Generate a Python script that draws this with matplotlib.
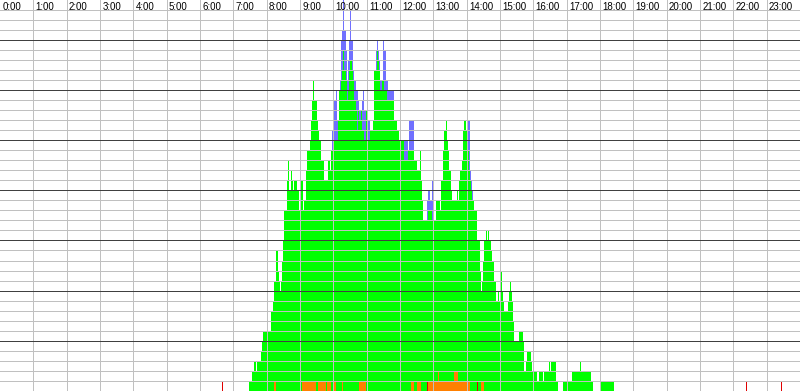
import numpy as np
import matplotlib
matplotlib.use("Agg")
import matplotlib.pyplot as plt

# ---------------- data ----------------
BIN_MIN = 2  # each bar covers 2 minutes (30 bars per hour)

hour_labels = ["0:00", "1:00", "2:00", "3:00", "4:00", "5:00", "6:00", "7:00",
               "8:00", "9:00", "10:00", "11:00", "12:00", "13:00", "14:00",
               "15:00", "16:00", "17:00", "18:00", "19:00", "20:00", "21:00",
               "22:00", "23:00"]

# top of the green stack (includes orange/red parts at the bottom), per 2-min bin
green_07 = [0, 0, 0, 0, 0, 0, 0, 0, 0, 0, 0, 0, 0, 0, 1, 1, 1, 2, 2, 3, 2, 3, 3, 3, 3, 4, 5, 6, 6, 6]
green_08 = [7, 6, 6, 6, 8, 8, 9, 11, 14, 14, 12, 11, 10, 11, 13, 15, 18, 18, 21, 23, 20, 20, 22, 21, 20, 21, 21, 20, 20, 18]
green_09 = [18, 21, 21, 18, 19, 22, 24, 24, 24, 25, 27, 29, 31, 29, 29, 27, 26, 25, 25, 23, 23, 23, 21, 21, 21, 23, 23, 22, 24, 24]
green_10 = [25, 25, 25, 25, 27, 30, 30, 31, 32, 34, 32, 31, 29, 30, 32, 33, 33, 32, 31, 29, 28, 26, 28, 27, 27, 28, 26, 26, 25, 28]
green_11 = [26, 25, 25, 26, 26, 26, 27, 32, 32, 34, 33, 32, 30, 30, 31, 31, 30, 30, 29, 29, 29, 29, 29, 29, 29, 27, 27, 26, 26, 25]
green_12 = [25, 25, 25, 25, 23, 23, 23, 24, 24, 24, 24, 24, 24, 23, 23, 22, 22, 22, 24, 21, 19, 17, 17, 17, 17, 18, 18, 18, 18, 17]
green_13 = [16, 17, 19, 19, 19, 19, 18, 21, 21, 24, 26, 27, 25, 24, 22, 22, 20, 19, 19, 19, 19, 20, 19, 21, 22, 22, 23, 26, 27, 26]
green_14 = [26, 24, 22, 21, 20, 19, 19, 18, 18, 15, 15, 15, 12, 10, 11, 13, 15, 16, 15, 16, 15, 15, 14, 13, 13, 11, 9, 9, 10, 9]
green_15 = [10, 12, 10, 9, 8, 8, 8, 9, 10, 11, 10, 9, 7, 5, 5, 5, 5, 6, 6, 6, 6, 5, 2, 3, 4, 4, 4, 4, 3, 2]
green_16 = [1, 2, 2, 1, 1, 2, 2, 2, 2, 1, 2, 2, 2, 2, 3, 2, 3, 3, 3, 3, 1, 1, 0, 0, 0, 0, 0, 1, 1, 1]
green_17 = [1, 1, 1, 1, 1, 2, 2, 2, 2, 2, 2, 2, 3, 2, 2, 2, 2, 2, 2, 2, 2, 2, 1, 1, 0, 0, 0, 0, 0, 0]
green_18 = [1, 1, 1, 1, 1, 1, 1, 1, 1, 1, 1, 1, 1, 0, 0, 0, 0, 0, 0, 0, 0, 0, 0, 0, 0, 0, 0, 0, 0, 0]

# blue segment stacked on top of green
blue_09 = [0, 0, 0, 0, 0, 0, 0, 0, 0, 0, 0, 0, 0, 0, 0, 0, 0, 0, 0, 0, 0, 0, 0, 0, 0, 0, 0, 0, 0, 2]
blue_10 = [2, 4, 5, 2, 0, 0, 1, 4, 4, 6, 4, 3, 2, 3, 3, 5, 2, 3, 1, 2, 2, 4, 1, 1, 1, 0, 3, 4, 3, 0]
blue_11 = [5, 2, 2, 0, 0, 0, 0, 0, 2, 1, 1, 1, 1, 1, 0, 4, 4, 1, 2, 1, 1, 1, 1, 1, 1, 0, 0, 0, 0, 0]
blue_12 = [0, 0, 0, 0, 2, 2, 2, 0, 3, 3, 3, 3, 3, 0, 0, 0, 0, 0, 0, 0, 0, 0, 0, 0, 2, 2, 2, 1, 1, 4]
blue_13 = [3, 0, 0, 0, 0, 0, 0, 0, 0, 0, 0, 0, 0, 0, 0, 0, 0, 0, 0, 0, 0, 0, 0, 0, 0, 0, 0, 0, 0, 0]
blue_14 = [0, 3, 5, 1, 1, 1, 0, 0, 0, 0, 0, 0, 0, 0, 0, 0, 0, 0, 0, 0, 0, 0, 0, 0, 0, 0, 0, 0, 0, 0]

# orange segment at the bottom
orange_08 = [0, 0, 0, 0, 0, 0, 0, 1, 0, 0, 0, 0, 0, 0, 0, 0, 0, 0, 0, 0, 0, 0, 0, 0, 0, 0, 0, 0, 0, 0]
orange_09 = [0, 0, 1, 1, 1, 1, 1, 1, 1, 1, 1, 1, 1, 1, 0, 0, 1, 1, 1, 1, 1, 1, 1, 0, 1, 1, 1, 1, 0, 0]
orange_10 = [2, 1, 0, 0, 0, 0, 0, 0, 1, 0, 0, 0, 0, 0, 0, 0, 0, 0, 0, 0, 0, 0, 0, 1, 1, 1, 1, 1, 1, 0]
orange_12 = [0, 0, 0, 0, 0, 0, 0, 0, 0, 0, 1, 1, 1, 0, 0, 1, 1, 1, 1, 0, 0, 0, 0, 0, 0, 1, 1, 1, 1, 1]
orange_13 = [1, 1, 1, 1, 2, 1, 1, 1, 1, 1, 1, 1, 1, 1, 1, 1, 1, 1, 1, 2, 2, 2, 1, 1, 1, 1, 1, 1, 1, 1]
orange_14 = [1, 1, 1, 0, 0, 0, 0, 0, 0, 0, 0, 0, 0, 1, 1, 1, 0, 0, 0, 0, 0, 0, 0, 0, 0, 0, 0, 0, 0, 0]

# red single events at the bottom
red_times = ["06:40", "12:48", "14:18", "22:22", "23:26"]
red_counts = [1, 1, 1, 1, 1]

# ---------------- assemble ----------------
per_hour = 60 // BIN_MIN
n_bins = 24 * per_hour
green = np.zeros(n_bins)
blue = np.zeros(n_bins)
orange = np.zeros(n_bins)
red = np.zeros(n_bins)

for h, vals in [(7, green_07), (8, green_08), (9, green_09), (10, green_10),
                (11, green_11), (12, green_12), (13, green_13), (14, green_14),
                (15, green_15), (16, green_16), (17, green_17), (18, green_18)]:
    green[h * per_hour:(h + 1) * per_hour] = vals
for h, vals in [(9, blue_09), (10, blue_10), (11, blue_11), (12, blue_12),
                (13, blue_13), (14, blue_14)]:
    blue[h * per_hour:(h + 1) * per_hour] = vals
for h, vals in [(8, orange_08), (9, orange_09), (10, orange_10), (12, orange_12),
                (13, orange_13), (14, orange_14)]:
    orange[h * per_hour:(h + 1) * per_hour] = vals
for t, c in zip(red_times, red_counts):
    hh, mm = t.split(":")
    red[(int(hh) * 60 + int(mm)) // BIN_MIN] = c

x = np.arange(n_bins) * BIN_MIN
green_seg = np.clip(green - orange - red, 0, None)

# ---------------- draw ----------------
W, H = 800, 391
fig = plt.figure(figsize=(W / 100, H / 100), dpi=100)
fig.patch.set_facecolor("white")
ax = fig.add_axes([0, 0, 1, 1])
ax.set_xlim(0, 1440)
ax.set_ylim(-0.05, 39.05)
ax.axis("off")

kw = dict(width=BIN_MIN, align="edge", linewidth=0, antialiased=False, zorder=1)
ax.bar(x, orange, bottom=0, color="#ff8000", **kw)
ax.bar(x, red, bottom=orange, color="#e00000", **kw)
ax.bar(x, green_seg, bottom=orange + red, color="#00ff00", **kw)
ax.bar(x, blue, bottom=green, color="#7070ff", **kw)

# grid
LW = 0.72  # one pixel at 100 dpi
for v in range(1, 39):
    dark = (v % 5 == 0)
    ax.axhline(v, color="#404040" if dark else "#c0c0c0", lw=LW, zorder=3 if dark else 2,
               antialiased=False, snap=True)
ax.axhline(0, color="#404040", lw=LW, zorder=3, antialiased=False, snap=True)
for h in range(1, 24):
    ax.axvline(h * 60, color="#c0c0c0", lw=LW, zorder=2, antialiased=False, snap=True)

for h, lab in enumerate(hour_labels):
    ax.text(h * 60 + 4, 38.07, lab, fontsize=7, family=["Liberation Sans", "DejaVu Sans"],
            ha="left", va="baseline", color="black", zorder=4)

fig.savefig("out.png", dpi=100, facecolor="white")
